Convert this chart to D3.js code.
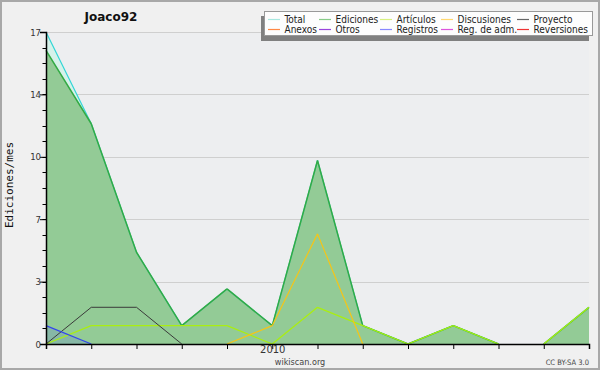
<!DOCTYPE html>
<html><head><meta charset="utf-8">
<script src="https://cdn.jsdelivr.net/npm/d3@7"></script>
<style>
body{margin:0;padding:0;background:#f0f0f0;}
svg{display:block;}
text{font-family:"DejaVu Sans",sans-serif;}
text.cond{font-family:"DejaVu Sans Condensed","DejaVu Sans",sans-serif;font-stretch:condensed;}
text.mono{font-family:"DejaVu Sans Mono",monospace;}
</style></head>
<body><svg id="c" width="600" height="370"></svg>
<script>
// ---- data ----
const months = ["2009-08","2009-09","2009-10","2009-11","2009-12","2010-01","2010-02","2010-03","2010-04","2010-05","2010-06","2010-07","2010-08"];
const total       = [17,12,5,1,3,1,10,1,0,1,0,0,2];
const edits       = [16,12,5,1,3,1,10,1,0,1,0,0,2];
const articles    = [0,1,1,1,1,0,2,1,0,1,0,0,2];
const discussions = [0,0,0,0,0,1,6,0,0,0,0,0,0];
const proyecto    = [0,2,2,0,0,0,0,0,0,0,0,0,0];
const registros   = [1,0,0,0,0,0,0,0,0,0,0,0,0];
const yMax = 17;
const xTickLabels = {"2010-01":"2010"};
const legendNames = [["Total","Ediciones","Artículos","Discusiones","Proyecto"],["Anexos","Otros","Registros","Reg. de adm.","Reversiones"]];
const legendColors = [["#a8e8e0","#88cc88","#d8f080","#ffd870","#666666"],["#ff8844","#9944dd","#8888ff","#dd55dd","#ee3333"]];
const title = "Joaco92";

const svg = d3.select("#c");
const W=600,H=370, L=46, R=589, T=32, B=344;

svg.append("rect").attr("x",0).attr("y",0).attr("width",W).attr("height",H).attr("fill","#f0f0f0");
svg.append("rect").attr("x",1).attr("y",1).attr("width",W-2).attr("height",H-2).attr("fill","none").attr("stroke","#a8a8a8").attr("stroke-width",2);
svg.append("rect").attr("x",L).attr("y",T).attr("width",R-L).attr("height",B-T).attr("fill","#edeef0");

const x = d3.scalePoint().domain(months).range([L,R]);
const y = d3.scaleLinear().domain([0,yMax]).range([B,T]);

const majors = d3.range(0,6).map(i=>yMax*i/5);
const minors = d3.range(0,21).map(i=>yMax*i/20);

// grid
svg.append("g").selectAll("line").data(majors.filter(v=>v>0)).join("line")
  .attr("x1",L).attr("x2",R).attr("y1",d=>Math.round(y(d))+0.5).attr("y2",d=>Math.round(y(d))+0.5)
  .attr("stroke","#cfcfcf").attr("stroke-width",1);

const pts = arr => arr.map((v,i)=>({m:months[i],v}));
const area = d3.area().x(d=>x(d.m)).y0(B).y1(d=>y(d.v));
const line = d3.line().x(d=>x(d.m)).y(d=>y(d.v));
// line path skipping segments lying on the baseline (both ends zero)
function segPath(arr){
  const p = pts(arr); let out = "";
  for(let i=0;i<p.length-1;i++){
    if(p[i].v===0 && p[i+1].v===0) continue;
    out += line([p[i],p[i+1]]);
  }
  return out;
}

svg.append("path").attr("d",area(pts(total))).attr("fill","#d6f2ea");
svg.append("path").attr("d",area(pts(edits))).attr("fill","#93cb96");
svg.append("path").attr("d",area(pts(registros))).attr("fill","#5566ee").attr("fill-opacity",0.18);

svg.append("path").attr("d",segPath(total)).attr("fill","none").attr("stroke","#33d6d6").attr("stroke-width",1.2);
svg.append("path").attr("d",segPath(edits)).attr("fill","none").attr("stroke","#33aa44").attr("stroke-width",1.5);
svg.append("path").attr("d",segPath(articles)).attr("fill","none").attr("stroke","#aaee11").attr("stroke-width",1.3);
svg.append("path").attr("d",segPath(discussions)).attr("fill","none").attr("stroke","#f5c518").attr("stroke-width",1.2);
svg.append("path").attr("d",segPath(proyecto)).attr("fill","none").attr("stroke","#3a3a3a").attr("stroke-width",1);
svg.append("path").attr("d",segPath(registros)).attr("fill","none").attr("stroke","#3344ee").attr("stroke-width",1.2);

// y axis
const yAxis = d3.axisLeft(y).tickValues(majors).tickSize(6).tickFormat(d=>Math.round(d));
const gy = svg.append("g").attr("transform",`translate(${L},0)`).call(yAxis);
gy.select(".domain").attr("stroke","#000").attr("stroke-width",1.5);
gy.selectAll(".tick line").attr("stroke","#000");
gy.selectAll(".tick text").attr("font-size",9.5).attr("fill","#333").attr("x",-5).attr("class","cond");
svg.append("g").selectAll("line").data(minors).join("line")
  .attr("x1",L-3.5).attr("x2",L).attr("y1",d=>Math.round(y(d))+0.5).attr("y2",d=>Math.round(y(d))+0.5)
  .attr("stroke","#000");

// x axis
const xAxis = d3.axisBottom(x).tickSize(5).tickFormat(d=>xTickLabels[d]||"");
const gx = svg.append("g").attr("transform",`translate(0,${B})`).call(xAxis);
gx.select(".domain").attr("stroke","#000").attr("stroke-width",1.5);
gx.selectAll(".tick line").attr("stroke","#000");
gx.selectAll(".tick text").attr("font-size",10).attr("fill","#333").attr("y",2);

// texts
svg.append("text").attr("x",111).attr("y",21).attr("text-anchor","middle").attr("font-weight","bold").attr("font-size",12).attr("fill","#111").text(title);
svg.append("text").attr("class","mono").attr("transform","translate(13,185) rotate(-90)").attr("text-anchor","middle").attr("font-size",11)
  .attr("fill","#111").text("Ediciones/mes");
svg.append("text").attr("x",300).attr("y",365).attr("text-anchor","middle").attr("font-size",9).attr("fill","#444").attr("class","cond").text("wikiscan.org");
svg.append("text").attr("x",589).attr("y",365).attr("text-anchor","end").attr("font-size",7.5).attr("fill","#444").attr("class","cond").text("CC BY-SA 3.0");

// legend
svg.append("rect").attr("x",261).attr("y",16).attr("width",328).attr("height",25).attr("fill","#808080");
svg.append("rect").attr("x",264.5).attr("y",11.5).attr("width",328).attr("height",24).attr("fill","#fdfdfd").attr("stroke","#999");
const colX = [268,319,380,441,517];
legendNames.forEach((row,r)=>{
  row.forEach((name,c)=>{
    const yy = 19.5 + r*10;
    svg.append("line").attr("x1",colX[c]).attr("x2",colX[c]+12).attr("y1",yy).attr("y2",yy).attr("stroke",legendColors[r][c]).attr("stroke-width",1.2);
    svg.append("text").attr("x",colX[c]+16.5).attr("y",yy+3.5).attr("font-size",10).attr("fill","#222")
      .attr("class","cond").text(name);
  });
});
</script></body></html>
